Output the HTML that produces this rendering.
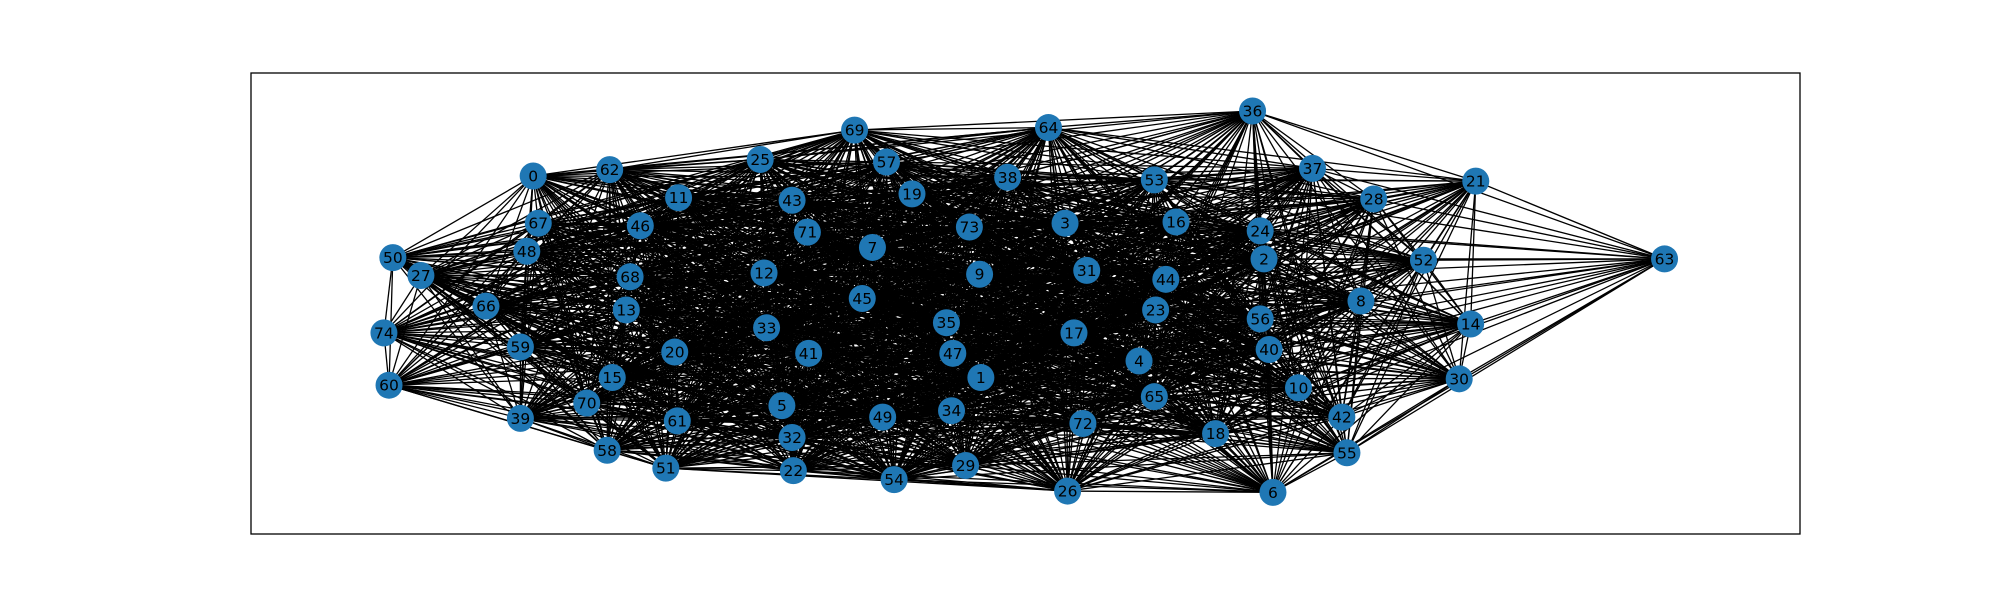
<!DOCTYPE html>
<html><head><meta charset="utf-8"><style>
html,body{margin:0;padding:0;background:#fff;width:2000px;height:600px;overflow:hidden}
svg{display:block}
text{font-family:"DejaVu Sans","Liberation Sans",sans-serif}
</style></head><body>
<svg id="chart" width="2000" height="600">
<rect x="251" y="73" width="1549" height="461" fill="none" stroke="#000" stroke-width="1.3"/>
<g id="edges"></g>
<g id="nodes"></g>
</svg>
<script>
const nodeIds = [0,62,25,69,57,64,36,37,21,28,38,53,11,43,19,67,46,71,7,73,3,16,24,2,52,63,50,48,27,68,12,9,31,44,8,66,13,45,23,56,14,74,33,35,17,59,20,41,47,4,40,30,1,15,60,10,65,70,5,49,34,42,39,61,72,18,32,55,58,51,22,29,54,26,6];
const nodeX = [418,478,596,670,695,822,982,1029,1157,1077,790,905,532,621,715,422,502,633,684,760,835,922,988,991,1116,1305,308,413,330,494,599,768,852,914,1067,381,491,676,906,988,1153,301,601,742,842,408,529,634,747,893,995,1144,769,480,305,1018,905,460,613,692,746,1052,408,531,849,953,621,1056,476,522,622,757,701,837,998];
const nodeY = [138,133,125,102,127,100,87,132,142,156,139,141,155,157,152,175,177,182,194,178,175,174,181,203,204,203,202,197,216,217,214,215,212,219,236,240,243,234,243,250,254,261,257,253,261,272,276,277,277,283,274,297,296,296,302,304,311,316,318,327,322,327,328,330,332,340,343,355,353,367,369,365,376,385,386];
const linkDistance = 430;
const S = 2000/1568;
function sx(v){return v*S;}
function sy(v){return v*S;}
const NS="http://www.w3.org/2000/svg";
const eg=document.getElementById('edges'), ng=document.getElementById('nodes');
for(let i=0;i<nodeIds.length;i++){
  for(let j=i+1;j<nodeIds.length;j++){
    const dx=nodeX[i]-nodeX[j], dy=nodeY[i]-nodeY[j];
    if(Math.hypot(dx,dy)<linkDistance){
      const l=document.createElementNS(NS,'line');
      l.setAttribute('x1',sx(nodeX[i]));l.setAttribute('y1',sy(nodeY[i]));
      l.setAttribute('x2',sx(nodeX[j]));l.setAttribute('y2',sy(nodeY[j]));
      l.setAttribute('stroke','#000');l.setAttribute('stroke-width','1.3');
      
      
      eg.appendChild(l);
    }
  }
}
for(let i=0;i<nodeIds.length;i++){
  const c=document.createElementNS(NS,'circle');
  c.setAttribute('cx',sx(nodeX[i]));c.setAttribute('cy',sy(nodeY[i]));
  c.setAttribute('r','13.5');c.setAttribute('fill','#1f77b4');
  
  
  ng.appendChild(c);
  const t=document.createElementNS(NS,'text');
  t.setAttribute('x',sx(nodeX[i]));t.setAttribute('y',sy(nodeY[i])+5.5);
  t.setAttribute('text-anchor','middle');t.setAttribute('font-size','15.5');
  t.textContent=nodeIds[i];
  
  
  ng.appendChild(t);
}
</script>
</body></html>
